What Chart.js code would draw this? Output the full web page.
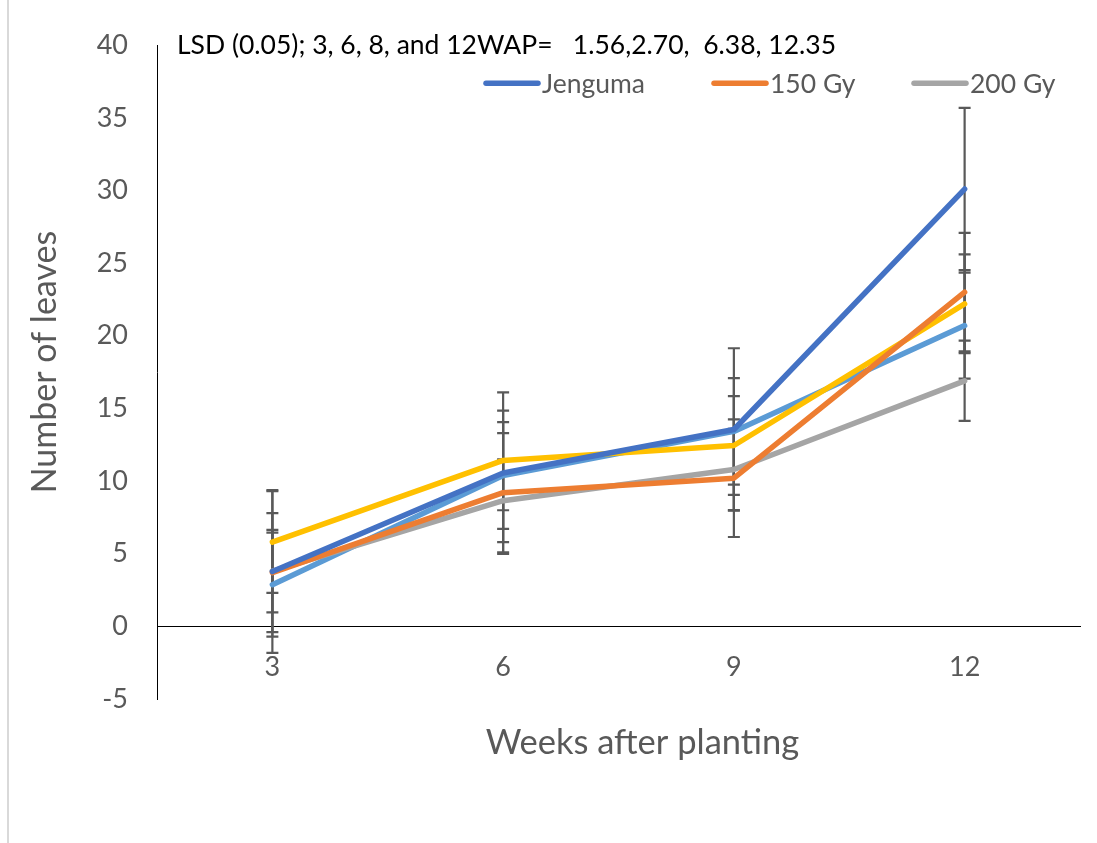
<!DOCTYPE html>
<html>
<head>
<meta charset="utf-8">
<script src="https://cdn.jsdelivr.net/npm/chart.js@4.4.1/dist/chart.umd.min.js"></script>
<style>
  html, body { margin: 0; padding: 0; background: #ffffff; }
  #wrap { width: 1097px; height: 843px; position: relative; }
</style>
</head>
<body>
<div id="wrap"><canvas id="c" width="1097" height="843"></canvas></div>
<script>
// ---- data ----
const weeks = ['3', '6', '9', '12'];
const yTicks = [-5, 0, 5, 10, 15, 20, 25, 30, 35, 40];

const seriesNames = ['Jenguma', '150 Gy', '200 Gy', '250 Gy', '300 Gy'];
const jenguma = [3.77, 10.55, 13.55, 30.1];
const gy150   = [3.7, 9.2, 10.2, 23.0];
const gy200   = [3.8, 8.65, 10.8, 16.9];
const gy250   = [5.8, 11.42, 12.45, 22.2];
const gy300   = [2.87, 10.38, 13.42, 20.7];

const jengumaErr = [5.6, 5.56, 5.59, 5.58];
const gy150Err   = [4.1, 4.1, 4.05, 4.08];
const gy200Err   = [2.84, 2.85, 2.8, 2.76];
const gy250Err   = [3.5, 3.43, 3.4, 3.4];
const gy300Err   = [3.58, 3.67, 3.67, 3.65];

const lsdNote = 'LSD (0.05); 3, 6, 8, and 12WAP=   1.56,2.70,  6.38, 12.35';
const xTitle = 'Weeks after planting';
const yTitle = 'Number of leaves';
const legendCount = 3;

const colors = ['#4472C4', '#ED7D31', '#A5A5A5', '#FFC000', '#5B9BD5'];
const values = [jenguma, gy150, gy200, gy250, gy300];
const errors = [jengumaErr, gy150Err, gy200Err, gy250Err, gy300Err];

const FONT = 'Lato, "Open Sans", sans-serif';
const legendStarts = [484, 712, 912];

const datasets = values.map((v, i) => ({
  label: seriesNames[i],
  data: v,
  errors: errors[i],
  borderColor: colors[i],
  backgroundColor: colors[i],
  borderWidth: 5.5,
  borderCapStyle: 'round',
  borderJoinStyle: 'round',
  pointRadius: 0,
  pointHoverRadius: 0,
  tension: 0,
  fill: false
}));

const deco = {
  id: 'deco',
  beforeDraw(chart) {
    const ctx = chart.ctx;
    ctx.save();
    ctx.fillStyle = '#ffffff';
    ctx.fillRect(0, 0, chart.width, chart.height);
    ctx.strokeStyle = '#D9D9D9';
    ctx.lineWidth = 2;
    ctx.beginPath();
    ctx.moveTo(8, 0);
    ctx.lineTo(8, chart.height);
    ctx.stroke();
    ctx.restore();
  },
  beforeDatasetsDraw(chart) {
    const ctx = chart.ctx;
    const xs = chart.scales.x, ys = chart.scales.y;
    ctx.save();
    ctx.strokeStyle = '#595959';
    ctx.lineWidth = 2.2;
    chart.data.datasets.forEach(ds => {
      ds.data.forEach((v, j) => {
        const e = ds.errors[j];
        const x = xs.getPixelForValue(j);
        const yt = ys.getPixelForValue(v + e);
        const yb = ys.getPixelForValue(v - e);
        ctx.beginPath();
        ctx.moveTo(x, yt); ctx.lineTo(x, yb);
        ctx.moveTo(x - 6, yt); ctx.lineTo(x + 6, yt);
        ctx.moveTo(x - 6, yb); ctx.lineTo(x + 6, yb);
        ctx.stroke();
      });
    });
    ctx.restore();
  },
  afterDraw(chart) {
    const ctx = chart.ctx;
    const a = chart.chartArea;
    ctx.save();
    // LSD note
    ctx.fillStyle = '#000000';
    ctx.font = '26.5px ' + FONT;
    ctx.textBaseline = 'middle';
    ctx.textAlign = 'left';
    ctx.fillText(lsdNote, a.left + 20, a.top);
    // legend (first three series)
    ctx.font = '26.5px ' + FONT;
    const ly = a.top + 38;
    for (let i = 0; i < legendCount; i++) {
      const ds = chart.data.datasets[i];
      const lx = legendStarts[i];
      ctx.strokeStyle = ds.borderColor;
      ctx.lineWidth = 5.5;
      ctx.lineCap = 'round';
      ctx.beginPath();
      ctx.moveTo(lx + 2, ly);
      ctx.lineTo(lx + 54, ly);
      ctx.stroke();
      ctx.fillStyle = '#595959';
      ctx.fillText(ds.label, lx + 58, ly + 1);
    }
    // x axis title
    ctx.font = '34.5px ' + FONT;
    ctx.textAlign = 'center';
    ctx.fillStyle = '#595959';
    ctx.fillText(xTitle, (a.left + a.right) / 2 + 24, a.bottom + 44);
    // y axis title
    ctx.translate(45, a.top + (a.bottom - a.top) / 2 - 10);
    ctx.rotate(-Math.PI / 2);
    ctx.font = '34px ' + FONT;
    ctx.fillText(yTitle, 0, 0);
    ctx.restore();
  }
};

new Chart(document.getElementById('c'), {
  type: 'line',
  data: { labels: weeks, datasets },
  options: {
    responsive: false,
    animation: false,
    layout: { padding: { left: 26, right: 17, top: 42, bottom: 144 } },
    plugins: {
      legend: { display: false },
      tooltip: { enabled: false },
      title: { display: false }
    },
    scales: {
      x: {
        type: 'category',
        offset: true,
        position: { y: 0 },
        grid: { display: false, drawTicks: false },
        border: { display: true, color: '#000000', width: 1 },
        ticks: { color: '#595959', font: { family: FONT, size: 27 }, padding: 25 }
      },
      y: {
        min: yTicks[0],
        max: yTicks[yTicks.length - 1],
        afterFit(scale) { scale.width = 131; },
        afterBuildTicks(scale) { scale.ticks = yTicks.map(v => ({ value: v })); },
        grid: { display: false, drawTicks: false },
        border: { display: true, color: '#000000', width: 1 },
        ticks: { color: '#595959', font: { family: FONT, size: 27 }, padding: 29 },
        title: { display: false, text: yTitle }
      }
    }
  },
  plugins: [deco]
});
</script>
</body>
</html>
